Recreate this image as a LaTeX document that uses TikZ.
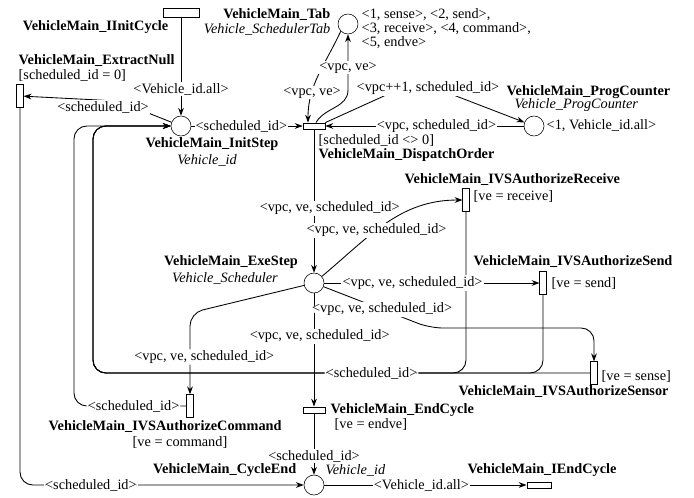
\documentclass[tikz,border=0pt]{standalone}
\usepackage{fontspec}
\setmainfont{Liberation Serif}
\usetikzlibrary{arrows.meta,calc}

\begin{document}
\begin{tikzpicture}[x=0.7pt,y=-0.7pt,inner sep=1pt,
    placenode/.style={draw,circle,minimum size=14pt,inner sep=0pt},
    htrans/.style={draw,rectangle,minimum width=15.5pt,minimum height=4.4pt,inner sep=0pt},
    vtrans/.style={draw,rectangle,minimum width=4.6pt,minimum height=16pt,inner sep=0pt},
    arcline/.style={line width=.6pt,-{Stealth[length=5.5pt,width=4pt]}},
    arclbl/.style={fill=white,inner sep=.8pt},
    netname/.style={font=\bfseries},
    nettype/.style={font=\itshape}]
    \useasboundingbox (0,0) rectangle (694,497);
    % Places
    \node[placenode] (InitStep) at (181,126) {};
    \node[placenode] (Tab) at (348,24) {};
    \node[placenode] (ProgCounter) at (534,126) {};
    \node[placenode] (ExeStep) at (314,283) {};
    \node[placenode] (CycleEnd) at (314,485) {};
    % Transitions
    \node[htrans,minimum width=25pt,minimum height=6pt] (IInitCycle) at (181,13) {};
    \node[vtrans] (ExtractNull) at (20,96) {};
    \node[htrans] (DispatchOrder) at (314,126) {};
    \node[vtrans] (Receive) at (466,200) {};
    \node[vtrans] (Send) at (543,283) {};
    \node[vtrans] (Sensor) at (594,373) {};
    \node[vtrans] (Command) at (190,406) {};
    \node[htrans] (EndCycle) at (314,410) {};
    \node[htrans,minimum width=17pt] (IEndCycle) at (539,485) {};
    % Names, colour sets and guards
    \node[netname,anchor=east] (tIInitCycle) at (170,27) {VehicleMain\_IInitCycle};
    \node[netname,anchor=west] (tExtractNull) at (17,61) {VehicleMain\_ExtractNull};
    \node[anchor=west] (gExtractNull) at (17,75) {[scheduled\_id = 0]};
    \node[netname,anchor=east] (tTab) at (332,15) {VehicleMain\_Tab};
    \node[nettype,anchor=east] (cTab) at (332,29) {Vehicle\_SchedulerTab};
    \node[anchor=west] (mTabA) at (360,15) {<1, sense>, <2, send>,};
    \node[anchor=west] (mTabB) at (360,29) {<3, receive>, <4, command>,};
    \node[anchor=west] (mTabC) at (360,43) {<5, endve>};
    \node[netname] (tInitStep) at (212,144) {VehicleMain\_InitStep};
    \node[nettype] (cInitStep) at (207,160) {Vehicle\_id};
    \node[netname,anchor=west] (tProgCounter) at (505,92) {VehicleMain\_ProgCounter};
    \node[nettype,anchor=west] (cProgCounter) at (513,105) {Vehicle\_ProgCounter};
    \node[anchor=west] (mProgCounter) at (545,126) {<1, Vehicle\_id.all>};
    \node[anchor=west] (gDispatchOrder) at (317,140) {[scheduled\_id <> 0]};
    \node[netname,anchor=west] (tDispatchOrder) at (317,155) {VehicleMain\_DispatchOrder};
    \node[netname,anchor=west] (tReceive) at (403,180) {VehicleMain\_IVSAuthorizeReceive};
    \node[anchor=west] (gReceive) at (472,196) {[ve = receive]};
    \node[netname] (tExeStep) at (231,262) {VehicleMain\_ExeStep};
    \node[nettype] (cExeStep) at (225,278) {Vehicle\_Scheduler};
    \node[netname,anchor=west] (tSend) at (472,262) {VehicleMain\_IVSAuthorizeSend};
    \node[anchor=west] (gSend) at (550,283) {[ve = send]};
    \node[anchor=west] (gSensor) at (600,376) {[ve = sense]};
    \node[netname,anchor=west] (tSensor) at (457,392) {VehicleMain\_IVSAuthorizeSensor};
    \node[netname,anchor=west] (tCommand) at (47,427) {VehicleMain\_IVSAuthorizeCommand};
    \node[anchor=west] (gCommand) at (131,442) {[ve = command]};
    \node[netname,anchor=west] (tEndCycle) at (329,410) {VehicleMain\_EndCycle};
    \node[anchor=west] (gEndCycle) at (333,424) {[ve = endve]};
    \node[netname,anchor=east] (tCycleEnd) at (298,470) {VehicleMain\_CycleEnd};
    \node[nettype,anchor=west] (cCycleEnd) at (324,470) {Vehicle\_id};
    \node[netname,anchor=west] (tIEndCycle) at (466,470) {VehicleMain\_IEndCycle};
    % Returns to InitStep
    \begin{scope}[rounded corners=9pt]
        \draw[arcline] (Receive) -- ++(0,173) -- ++(-373,0) |- (InitStep);
        \draw[arcline] (Send) -- ++(0,90) -- ++(-450,0) |- (InitStep);
        \draw[arcline] (Sensor) -- node[arclbl,pos=.44] (lSensorBack) {<scheduled\_id>} ++(-501,0) |- (InitStep);
        \draw[arcline] (Command) -- node[arclbl,pos=.47] (lCommandBack) {<scheduled\_id>} ++(-116,0) |- (InitStep);
        \draw[arcline] (ExtractNull) |- node[arclbl,pos=.625] (lExtractNull) {<scheduled\_id>} (CycleEnd);
    \end{scope}
    % Start of the cycle
    \draw[arcline] (IInitCycle) -- node[arclbl,pos=.73] (lIInit) {<Vehicle\_id.all>} (InitStep);
    \coordinate (nullbend) at (118,101);
    \draw[arcline,rounded corners=12pt] (InitStep) -- (nullbend) -- (ExtractNull);
    \node[arclbl] (lToNull) at (103,107) {<scheduled\_id>};
    \draw[arcline] (InitStep) -- node[arclbl,pos=.45] (lToDispatch) {<scheduled\_id>} (DispatchOrder);
    % Table and program counter
    \draw[arcline] (Tab.225) to[out=245,in=90] node[arclbl,pos=.7] (lTabIn) {<vpc, ve>} ($(DispatchOrder.north)+(-6,0)$);
    \coordinate (tabbend) at (348,90);
    \draw[arcline] ($(DispatchOrder.north)+(2,0)$) to[out=60,in=-90] (tabbend) -- node[arclbl,pos=.4] (lTabOut) {<vpc, ve>} (Tab);
    \coordinate (pcbend) at (417,81);
    \draw[arcline] (DispatchOrder.north east) -- (pcbend) -- (ProgCounter);
    \node[arclbl] (lPcOut) at (428,88) {<vpc++1, scheduled\_id>};
    \draw[arcline] (ProgCounter) -- node[arclbl,pos=.44] (lPcIn) {<vpc, scheduled\_id>} (DispatchOrder);
    % Execution step
    \draw[arcline] (DispatchOrder) -- node[arclbl,pos=.55,xshift=11pt] (lToExe) {<vpc, ve, scheduled\_id>} (ExeStep);
    \draw[arcline] (ExeStep) -- node[arclbl,pos=.38,xshift=4pt] (lToEnd) {<vpc, ve, scheduled\_id>} (EndCycle);
    \draw[arcline] (ExeStep.40) to[out=40,in=180] node[arclbl,pos=.42] (lToReceive) {<vpc, ve, scheduled\_id>} (Receive);
    \draw[arcline] (ExeStep) -- node[arclbl,pos=.41] (lToSend) {<vpc, ve, scheduled\_id>} (Send);
    \begin{scope}[rounded corners=9pt]
        \draw[arcline] (ExeStep) -- node[arclbl,pos=.55] (lToSensor) {<vpc, ve, scheduled\_id>} (430,328) -| (Sensor);
        \draw[arcline] (ExeStep) -- (190,313) -- node[arclbl,pos=.54,xshift=10pt] (lToCommand) {<vpc, ve, scheduled\_id>} (Command);
    \end{scope}
    % End of the cycle
    \draw[arcline] (EndCycle) -- node[arclbl,pos=.7] (lToCycleEnd) {<scheduled\_id>} (CycleEnd);
    \draw[arcline] (CycleEnd) -- node[arclbl,pos=.48] (lIEnd) {<Vehicle\_id.all>} (IEndCycle);
\end{tikzpicture}
\end{document}
